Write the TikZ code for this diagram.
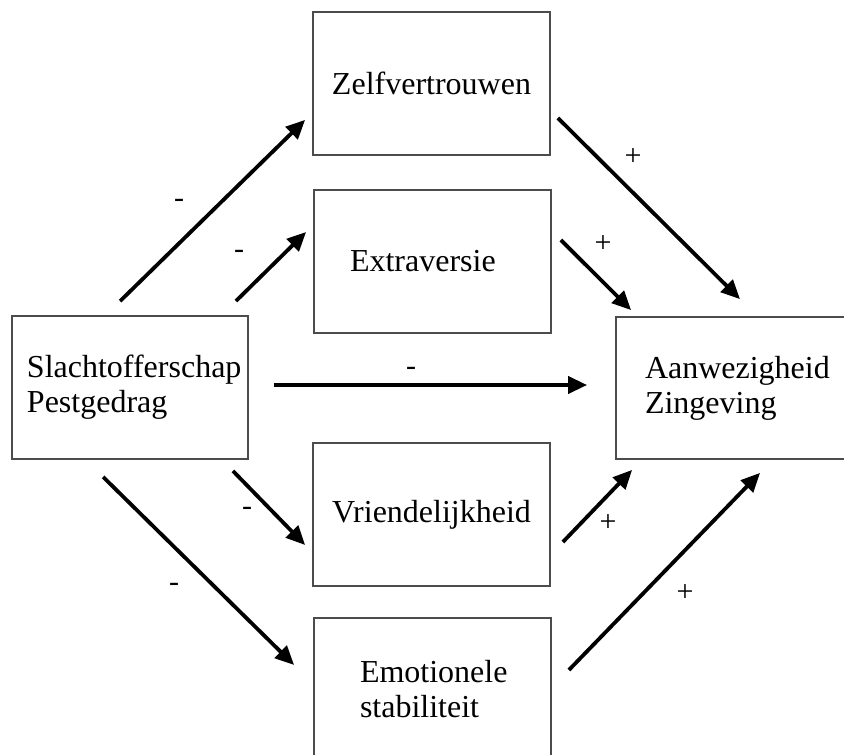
\documentclass[tikz,border=0pt]{standalone}
\usepackage{fontspec}
\setmainfont{Liberation Serif}
\usetikzlibrary{arrows.meta,calc}

\begin{document}
\begin{tikzpicture}[x=1pt,y=-1pt,
	box/.style={draw=black!70,line width=1.8pt,minimum width=237pt,minimum height=143pt,inner sep=0pt,align=left,font=\fontsize{32}{35}\selectfont},
	arr/.style={-{Triangle[length=19pt,width=17pt]},line width=3.8pt},
	sign/.style={inner sep=0pt,font=\fontsize{30}{30}\selectfont}]
	\useasboundingbox (0,0) rectangle (844,755);
	\clip (0,0) rectangle (844,755);
	% boxes
	\node[box,minimum width=236pt,text width=206pt] (slacht) at (130,387.5) {Slachtofferschap\\Pestgedrag};
	\node[box] (zelf) at (431.5,83.5) {Zelfvertrouwen};
	\node[box,text width=165pt] (extra) at (432.5,261.5) {Extraversie};
	\node[box] (vriend) at (431.5,514.5) {Vriendelijkheid};
	\node[box,text width=145pt] (emot) at (432.5,689.5) {Emotionele\\stabiliteit};
	\node[box,minimum width=234pt,minimum height=142pt,text width=176pt] (aanw) at (733,388) {Aanwezigheid\\Zingeving};
	% paths from the left box
	\draw[arr] ($(slacht.north west)+(109,-14)$) -- ($(zelf.south west)+(-7,-36)$);
	\draw[arr] ($(slacht.north east)+(-13,-14)$) -- ($(extra.west)+(-7,-29.5)$);
	\draw[arr] ($(slacht.east)+(25,-2.5)$) -- ($(aanw.west)+(-28,-3)$);
	\draw[arr] ($(slacht.south east)+(-16,11)$) -- ($(vriend.west)+(-7,30.5)$);
	\draw[arr] ($(slacht.south west)+(92,17)$) -- ($(emot.west)+(-19,-24.5)$);
	% paths to the right box
	\draw[arr] ($(zelf.east)+(7,34.5)$) -- ($(aanw.north)+(7,-17)$);
	\draw[arr] ($(extra.east)+(9,-21.5)$) -- ($(aanw.north west)+(16,-6)$);
	\draw[arr] ($(vriend.east)+(12,27.5)$) -- ($(aanw.south west)+(17,10)$);
	\draw[arr] ($(emot.east)+(17,-19.5)$) -- ($(aanw.south)+(27,13)$);
	% signs
	\node[sign] (m1) at (179,203) {-};
	\node[sign] (m2) at (239,254) {-};
	\node[sign] (m3) at (411,371) {-};
	\node[sign] (m4) at (247,511) {-};
	\node[sign] (m5) at (174,587) {-};
	\node[sign] (p1) at (633,157) {+};
	\node[sign] (p2) at (603,244) {+};
	\node[sign] (p3) at (608,523) {+};
	\node[sign] (p4) at (685,593) {+};
\end{tikzpicture}
\end{document}
